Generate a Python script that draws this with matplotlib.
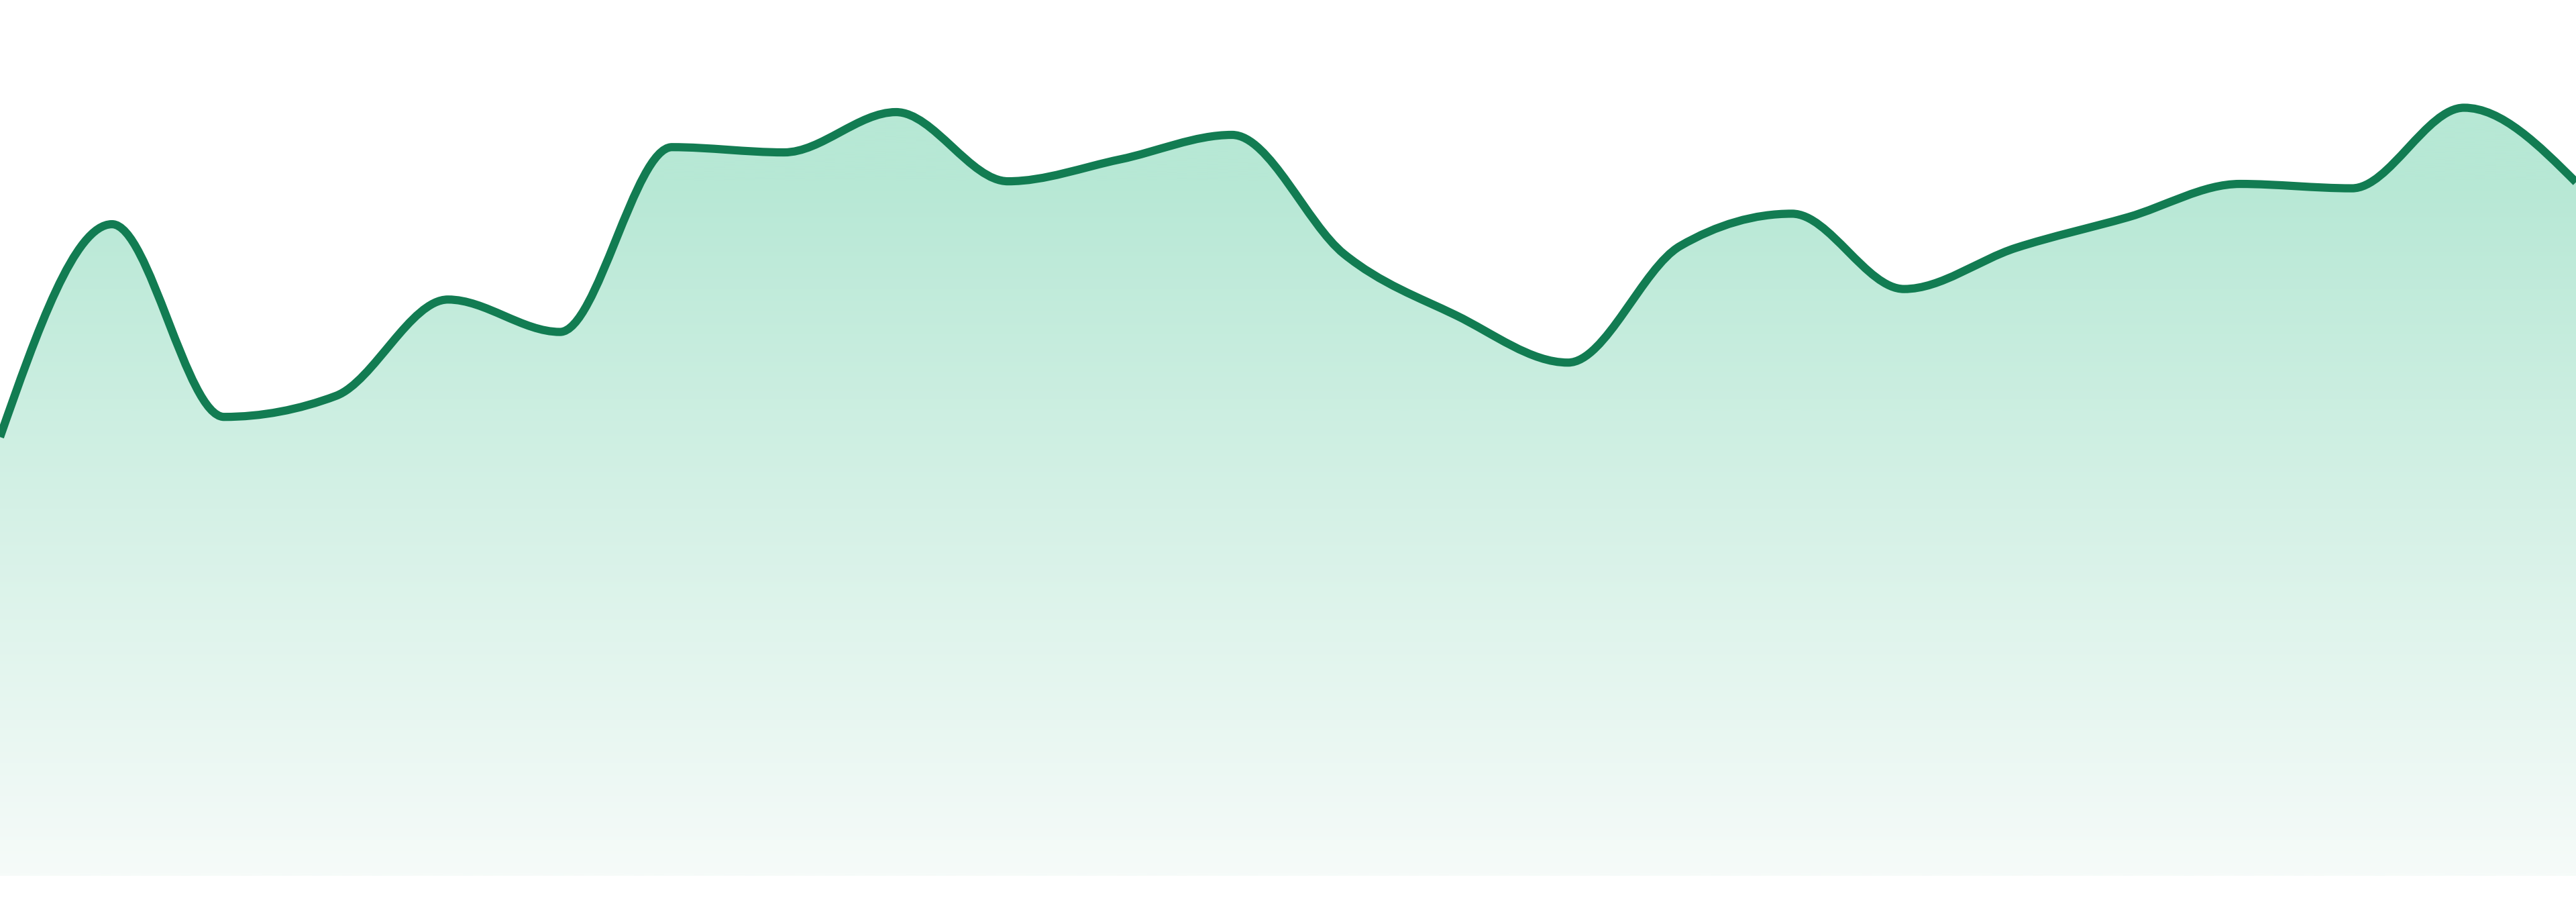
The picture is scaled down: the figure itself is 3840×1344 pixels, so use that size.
import numpy as np
import matplotlib
matplotlib.use("Agg")
import matplotlib.pyplot as plt
from matplotlib.path import Path
from matplotlib.patches import PathPatch
from matplotlib.colors import LinearSegmentedColormap

# one value per step, 24 steps across the full width
steps = list(range(24))
values = [50.1, 74.4, 52.4, 54.8, 65.8, 62.1, 83.2, 82.6, 87.2, 79.3, 81.8, 84.6,
          71.0, 64.0, 58.6, 71.9, 75.6, 67.0, 71.7, 75.2, 79.0, 78.5, 87.7, 79.2]

line_color = "#127c52"
top_color = "#b7e8d5"
bottom_color = "#f6fbf9"


def monotone_tangents(x, y):
    # same rule as d3.curveMonotoneX
    n = len(x)
    t = np.zeros(n)
    for i in range(1, n - 1):
        h0 = x[i] - x[i - 1]
        h1 = x[i + 1] - x[i]
        s0 = (y[i] - y[i - 1]) / h0
        s1 = (y[i + 1] - y[i]) / h1
        p = (s0 * h1 + s1 * h0) / (h0 + h1)
        t[i] = (np.sign(s0) + np.sign(s1)) * min(abs(s0), abs(s1), 0.5 * abs(p))
    h = x[1] - x[0]
    t[0] = (3 * (y[1] - y[0]) / h - t[1]) / 2
    h = x[-1] - x[-2]
    t[-1] = (3 * (y[-1] - y[-2]) / h - t[-2]) / 2
    return t


def curve_vertices(x, y):
    t = monotone_tangents(x, y)
    verts = [(x[0], y[0])]
    codes = [Path.MOVETO]
    for i in range(len(x) - 1):
        dx = (x[i + 1] - x[i]) / 3
        verts += [(x[i] + dx, y[i] + dx * t[i]),
                  (x[i + 1] - dx, y[i + 1] - dx * t[i + 1]),
                  (x[i + 1], y[i + 1])]
        codes += [Path.CURVE4] * 3
    return verts, codes


x = np.array(steps, dtype=float)
y = np.array(values, dtype=float)
verts, codes = curve_vertices(x, y)

fig = plt.figure(figsize=(38.4, 13.44), dpi=100, facecolor="white")
ax = fig.add_axes([0, 39 / 1344, 1, 1305 / 1344])
ax.set_xlim(x[0], x[-1])
ax.set_ylim(0, 100)
ax.axis("off")

# area under the curve, filled with a vertical gradient
area = Path(verts + [(x[-1], 0), (x[0], 0), (x[0], y[0])],
            codes + [Path.LINETO, Path.LINETO, Path.CLOSEPOLY])
area_patch = PathPatch(area, facecolor="none", edgecolor="none")
ax.add_patch(area_patch)

cmap = LinearSegmentedColormap.from_list("fade", [bottom_color, top_color])
grad = np.linspace(0, 1, 512).reshape(-1, 1)
grad = np.clip(grad / 0.797, 0, 1)
img = ax.imshow(grad, cmap=cmap, aspect="auto", origin="lower",
                extent=[x[0], x[-1], 0, 100], interpolation="bilinear", zorder=1)
img.set_clip_path(area_patch)

line = PathPatch(Path(verts, codes), facecolor="none", edgecolor=line_color,
                 linewidth=8.8, capstyle="butt", joinstyle="round", zorder=2)
ax.add_patch(line)

fig.savefig("out.png", dpi=100, facecolor="white")
